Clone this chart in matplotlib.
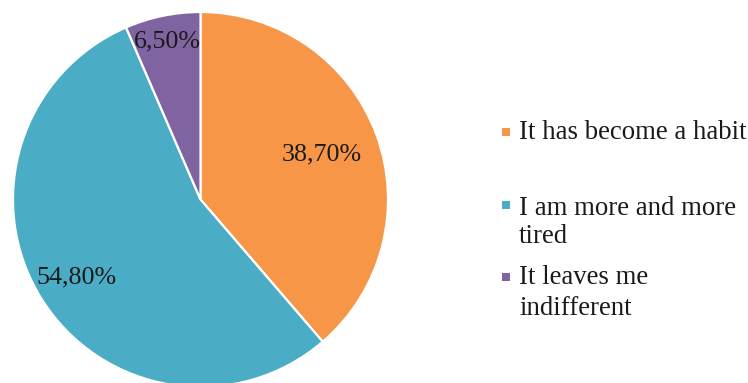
import numpy as np
import matplotlib
matplotlib.use('Agg')
import matplotlib.pyplot as plt
from matplotlib.patches import Rectangle

# answers and shares (percent)
labels = ['It has become a habit', 'I am more and more\ntired', 'It leaves me\nindifferent']
values = [38.7, 54.8, 6.5]
colors = ['#F79646', '#4BACC6', '#8064A2']
label_dist = [0.69, 0.78, 0.86] # radial position of the % labels

W, H = 748, 383
fig = plt.figure(figsize=(W/100, H/100), dpi=100)
fig.patch.set_facecolor('white')

# pie axes, square in pixels, centre at (200.5, 199.5) px from top-left
R = 187.5
cx, cy = 200.5, 199.5
ax = fig.add_axes([(cx-R)/W, (H-cy-R)/H, 2*R/W, 2*R/H])

wedges, _ = ax.pie(values, colors=colors, startangle=90, counterclock=False,
	radius=1, wedgeprops=dict(edgecolor='white', linewidth=1.6))
for w in wedges:
	w.set_clip_on(False)
ax.set_xlim(-1, 1) # pie() resets the limits, so set them after
ax.set_ylim(-1, 1)
ax.axis('off')

for w, v, d in zip(wedges, values, label_dist):
	ang = np.deg2rad((w.theta1 + w.theta2)/2)
	txt = ('%.2f' % v).replace('.', ',') + '%'
	ax.text(d*np.cos(ang), d*np.sin(ang), txt, ha='center', va='center',
		fontsize=18.7, family='Liberation Serif', color='#1a1a1a')

# legend drawn by hand to follow the original spacing
sq_y = [132, 205, 277] # square centres, px from top
base_y = [[139], [215, 243], [284, 315]] # text baselines, px from top
for lab, c, sy, bys in zip(labels, colors, sq_y, base_y):
	fig.patches.append(Rectangle((502/W, (H-sy-4)/H), 8/W, 8/H,
		transform=fig.transFigure, facecolor=c, edgecolor='none'))
	for line, by in zip(lab.split('\n'), bys):
		fig.text(519/W, (H-by)/H, line, ha='left', va='baseline',
			fontsize=19.3, family='Liberation Serif', color='#1a1a1a')

fig.savefig('out.png', dpi=100)
